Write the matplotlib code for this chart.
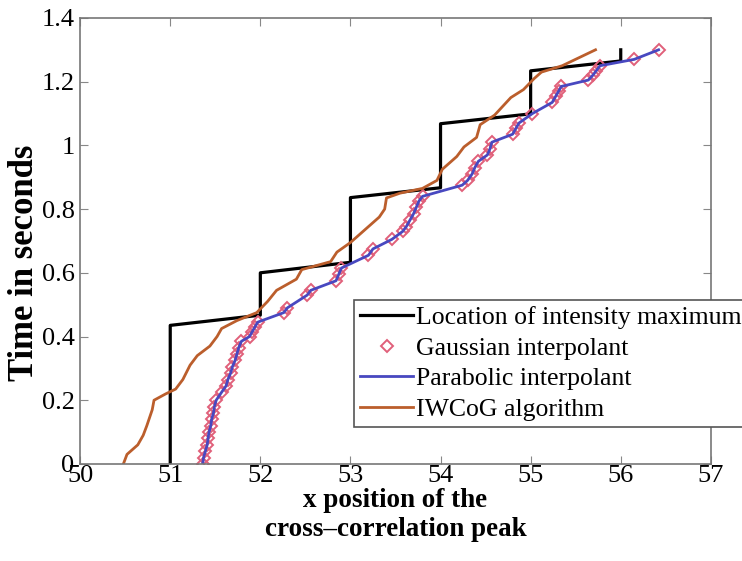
import matplotlib
matplotlib.use("Agg")
import matplotlib.pyplot as plt

plt.rcParams['font.family'] = ['Liberation Serif', 'DejaVu Serif']

# location of the intensity maximum (integer pixel steps)
x_max = [51, 51, 52, 52, 53, 53, 54, 54, 55, 55, 56, 56]
t_max = [0.0, 0.435, 0.467, 0.60, 0.633, 0.836, 0.867, 1.068, 1.099, 1.234, 1.265, 1.30]

# sub-pixel interpolants (gaussian and parabolic give the same peak here)
t_interp = [0.00, 0.02, 0.04, 0.06, 0.08, 0.10, 0.12, 0.14, 0.16, 0.18, 0.20,
            0.225, 0.245, 0.265, 0.285, 0.305, 0.325, 0.345, 0.365, 0.385,
            0.40, 0.415, 0.43, 0.445, 0.475, 0.49, 0.53, 0.545, 0.575, 0.595,
            0.615, 0.655, 0.675, 0.705, 0.73, 0.745, 0.765, 0.785, 0.805, 0.825,
            0.84, 0.875, 0.89, 0.91, 0.93, 0.95, 0.97, 0.99, 1.01, 1.035,
            1.055, 1.07, 1.10, 1.135, 1.155, 1.17, 1.185, 1.205, 1.22, 1.235,
            1.25, 1.27, 1.30]
x_gauss = [51.36, 51.37, 51.39, 51.41, 51.42, 51.43, 51.45, 51.46, 51.48, 51.49, 51.51,
           51.57, 51.62, 51.64, 51.67, 51.69, 51.72, 51.74, 51.76, 51.79,
           51.88, 51.91, 51.94, 51.97, 52.26, 52.30, 52.52, 52.56, 52.84, 52.87,
           52.90, 53.20, 53.25, 53.46, 53.58, 53.62, 53.66, 53.70, 53.73, 53.76,
           53.80, 54.24, 54.30, 54.35, 54.38, 54.42, 54.52, 54.55, 54.57, 54.80,
           54.84, 54.87, 55.02, 55.24, 55.28, 55.31, 55.34, 55.64, 55.69, 55.73,
           55.77, 56.15, 56.42]
x_parab = list(x_gauss)

# intensity weighted centre of gravity
t_iwcog = [0.00, 0.03, 0.06, 0.09, 0.12, 0.17, 0.20, 0.22, 0.235, 0.265, 0.31,
           0.34, 0.37, 0.40, 0.425, 0.45, 0.475, 0.51, 0.545, 0.58, 0.61,
           0.635, 0.665, 0.695, 0.745, 0.775, 0.80, 0.835, 0.85, 0.865, 0.89,
           0.925, 0.965, 0.995, 1.025, 1.065, 1.095, 1.15, 1.175, 1.21, 1.23,
           1.25, 1.30]
x_iwcog = [50.48, 50.52, 50.64, 50.70, 50.74, 50.80, 50.82, 50.95, 51.06, 51.14, 51.22,
           51.30, 51.44, 51.52, 51.57, 51.74, 51.96, 52.08, 52.18, 52.40, 52.46,
           52.78, 52.85, 53.00, 53.20, 53.32, 53.38, 53.40, 53.55, 53.80, 53.96,
           54.02, 54.18, 54.26, 54.40, 54.44, 54.60, 54.78, 54.92, 55.04, 55.12,
           55.35, 55.72]

fig = plt.figure(figsize=(7.42, 5.61), dpi=100)
ax = fig.add_axes([0.108, 0.173, 0.850, 0.795])

ax.plot(x_max, t_max, color='black', lw=2.3, label='Location of intensity maximum')
ax.plot(x_gauss, t_interp, ls='none', marker='D', ms=6.5, mfc='none',
        mec='#e0607a', mew=1.4, label='Gaussian interpolant')
ax.plot(x_parab, t_interp, color='#4848c0', lw=2.0, label='Parabolic interpolant')
ax.plot(x_iwcog, t_iwcog, color='#bb5e2c', lw=2.0, label='IWCoG algorithm')

ax.set_xlim(50, 57)
ax.set_ylim(0, 1.4)
ax.set_xticks(range(50, 58))
ax.set_yticks([0, 0.2, 0.4, 0.6, 0.8, 1.0, 1.2, 1.4])
ax.set_yticklabels(['0', '0.2', '0.4', '0.6', '0.8', '1', '1.2', '1.4'])
ax.tick_params(direction='in', top=True, right=True, length=6, width=0.8,
               color='#888888', labelsize=19)
ax.tick_params(axis='x', pad=1)
ax.tick_params(axis='y', pad=4)
for s in ax.spines.values():
    s.set_color('#777777')
    s.set_linewidth(1.2)

ax.set_xlabel('x position of the\ncross\u2013correlation peak', fontsize=19.5,
              fontweight='bold', linespacing=1.2, va='top')
ax.xaxis.set_label_coords(0.5, -0.055)
ax.set_ylabel('Time in seconds', fontsize=25, fontweight='bold')
ax.yaxis.set_label_coords(-0.062, 0.45)

leg = ax.legend(loc='upper left', bbox_to_anchor=(0.434, 0.368), fontsize=18.5,
                handlelength=2.05, handletextpad=0.1, labelspacing=0.29,
                borderpad=0.25, fancybox=False, framealpha=1, borderaxespad=0)
leg.get_frame().set_edgecolor('#555555')
leg.get_frame().set_linewidth(1.2)

fig.savefig('out.png', dpi=100)
